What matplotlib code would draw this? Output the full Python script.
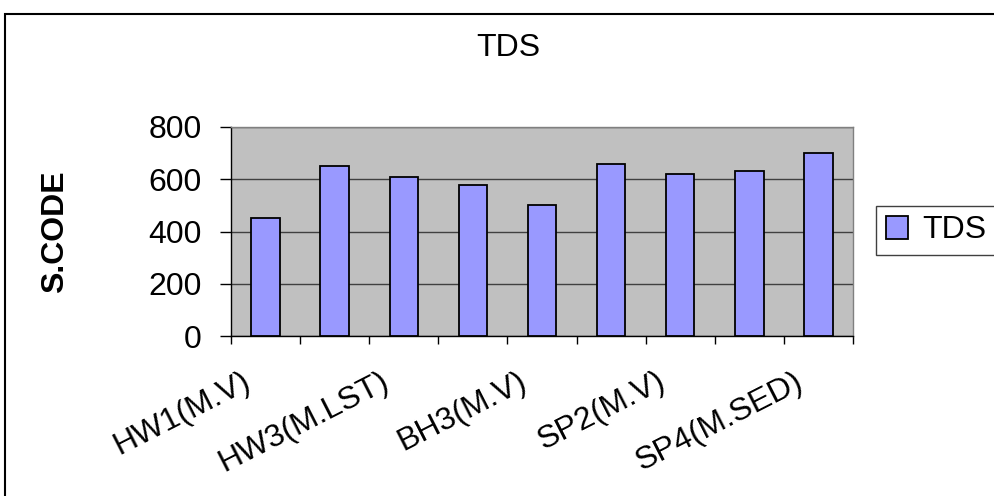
import numpy as np
import matplotlib
matplotlib.use("Agg")
import matplotlib.pyplot as plt
from matplotlib.patches import Rectangle
from matplotlib.transforms import ScaledTranslation

# data (only every other station name is printed in the original)
stations = ["HW1(M.V)", "HW2(M.V)", "HW3(M.LST)", "BH2(M.V)", "BH3(M.V)",
            "SP1(M.V)", "SP2(M.V)", "SP3(M.V)", "SP4(M.SED)"]
tds = [450, 650, 608, 578, 500, 660, 622, 630, 702]
y_ticks = [0, 200, 400, 600, 800]

plt.rcParams['font.family'] = ['Liberation Sans', 'DejaVu Sans']
FS = 23

fig = plt.figure(figsize=(9.94, 4.96), dpi=100)
ax = fig.add_axes([231 / 994, 1 - 336 / 496, 622 / 994, 209 / 496])
ax.set_facecolor('#C0C0C0')

x = np.arange(len(stations))
bars = ax.bar(x, tds, width=0.41, color='#9999FF', edgecolor='black',
              linewidth=1.3, label='TDS', zorder=3)

ax.set_ylim(0, 800)
ax.set_xlim(-0.5, len(stations) - 0.5)
ax.set_yticks(y_ticks)
ax.yaxis.grid(True, color='#404040', linewidth=1.0)
ax.set_axisbelow(True)
ax.tick_params(axis='y', direction='out', length=8, width=1, pad=13, labelsize=FS)

# labels under every other category, marks on the category boundaries
ax.set_xticks(x[::2])
ax.set_xticklabels(stations[::2], rotation=27, ha='right', va='top',
                   rotation_mode='anchor', fontsize=FS)
ax.set_xticks(np.arange(-0.5, len(stations), 1), minor=True)
ax.tick_params(axis='x', which='major', length=0, pad=22)
ax.tick_params(axis='x', which='minor', direction='out', length=6, width=1)
shift = ScaledTranslation(-24 / 100, 0, fig.dpi_scale_trans)
for lab in ax.get_xticklabels():
    lab.set_transform(lab.get_transform() + shift)

for side in ['left', 'bottom']:
    ax.spines[side].set_color('black')
    ax.spines[side].set_linewidth(1)
for side in ['top', 'right']:
    ax.spines[side].set_color('#808080')
    ax.spines[side].set_linewidth(1)

ax.set_ylabel('S.CODE', fontsize=FS, fontweight='bold')
ax.yaxis.set_label_coords(-0.259, 0.5)

fig.text(508 / 994, 1 - 47.5 / 496, 'TDS', fontsize=FS, ha='center', va='center')

leg = fig.legend(handles=[bars], labels=['TDS'], loc='center left',
                 bbox_to_anchor=(876 / 994, 1 - 230.5 / 496), fontsize=FS,
                 fancybox=False, framealpha=1, edgecolor='#404040',
                 handlelength=0.7, handleheight=0.7, handletextpad=0.45,
                 borderpad=0.3, borderaxespad=0)
leg.get_frame().set_linewidth(1)

# outer chart border (cut off at right and bottom in the original)
fig.patches.append(Rectangle((4.5 / 994, -0.2), 1.2, 1.2 - 14.3 / 496,
                             transform=fig.transFigure, fill=False,
                             edgecolor='black', linewidth=1.5))

fig.savefig('out.png', dpi=100)
